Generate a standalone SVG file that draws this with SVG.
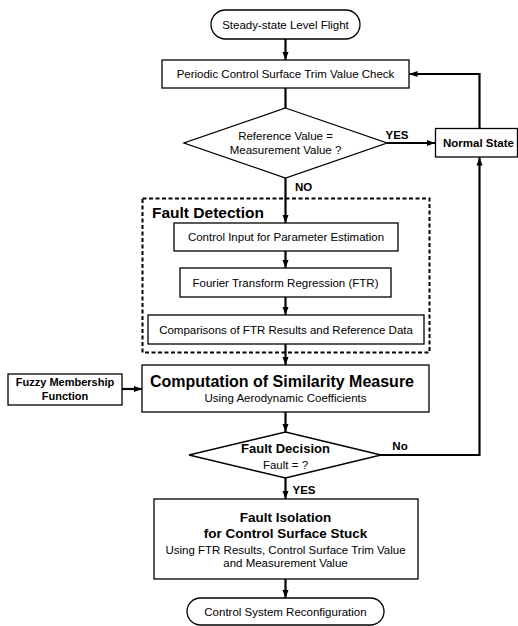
<svg xmlns="http://www.w3.org/2000/svg" width="518" height="626" viewBox="0 0 518 626">
<style>
.b{fill:#fff;stroke:#000;stroke-width:1.3}
.t{font-family:"Liberation Sans",Arial,sans-serif;font-size:11.5px;fill:#000;text-anchor:middle}
.bd{font-family:"Liberation Sans",Arial,sans-serif;font-weight:bold;fill:#000;text-anchor:middle}
.l{text-anchor:start}
.c{fill:none;stroke:#000;stroke-width:2.2}
</style>
<defs>
<marker id="a" markerUnits="userSpaceOnUse" markerWidth="8" markerHeight="8" viewBox="0 0 8 8" refX="8" refY="4" orient="auto">
<path d="M0,1 L8,4 L0,7 Z" fill="#000"/>
</marker>
</defs>
<rect width="518" height="626" fill="#fff"/>
<g id="connectors">
<path class="c" d="M285.5,39 V60" marker-end="url(#a)"/>
<path class="c" d="M285.5,88 V108"/>
<path class="c" d="M387,143 H435" marker-end="url(#a)"/>
<path class="c" d="M285.5,178 V223" marker-end="url(#a)"/>
<path class="c" d="M285.5,251 V268" marker-end="url(#a)"/>
<path class="c" d="M285.5,297 V315" marker-end="url(#a)"/>
<path class="c" d="M285.5,344 V365" marker-end="url(#a)"/>
<path class="c" d="M122,389 H142" marker-end="url(#a)"/>
<path class="c" d="M285.5,412 V432" marker-end="url(#a)"/>
<path class="c" d="M380,455 H479.5 V157.5" marker-end="url(#a)"/>
<path class="c" d="M479.5,128 V74 H409.5" marker-end="url(#a)"/>
<path class="c" d="M285.5,478 V499" marker-end="url(#a)"/>
<path class="c" d="M285.5,579 V598" marker-end="url(#a)"/>
<text class="bd" x="397" y="139" font-size="11.5">YES</text>
<text class="bd" x="303.5" y="191" font-size="11.5">NO</text>
<text class="bd" x="400" y="450" font-size="11.5">No</text>
<text class="bd" x="304" y="494" font-size="11.5">YES</text>
</g>
<g id="start">
<rect class="b" x="211" y="10" width="149" height="29" rx="14.5"/>
<text class="t" x="285.5" y="29">Steady-state Level Flight</text>
</g>
<g id="periodic">
<rect class="b" x="162" y="60" width="247" height="28"/>
<text class="t" x="285.5" y="78">Periodic Control Surface Trim Value Check</text>
</g>
<g id="ref-check">
<polygon class="b" points="285.5,108 387,143 285.5,178 184,143"/>
<text class="t" x="285.5" y="140">Reference Value =</text>
<text class="t" x="285.5" y="154">Measurement Value ?</text>
</g>
<g id="normal">
<rect class="b" x="435.5" y="128.5" width="82" height="28.5"/>
<text class="bd" x="478.5" y="147" font-size="11.5">Normal State</text>
</g>
<g id="fault-detection">
<rect x="142.5" y="198.5" width="287" height="154" fill="none" stroke="#000" stroke-width="2" stroke-dasharray="4,2.5"/>
<text class="bd l" x="152" y="218" font-size="15.5">Fault Detection</text>
</g>
<g id="control-input">
<rect class="b" x="174" y="223" width="224" height="28"/>
<text class="t" x="286" y="241">Control Input for Parameter Estimation</text>
</g>
<g id="ftr">
<rect class="b" x="180" y="268" width="211" height="29"/>
<text class="t" x="285.5" y="287">Fourier Transform Regression (FTR)</text>
</g>
<g id="comparisons">
<rect class="b" x="148" y="315" width="276" height="29"/>
<text class="t" x="286" y="334">Comparisons of FTR Results and Reference Data</text>
</g>
<g id="fuzzy">
<rect class="b" x="8" y="374" width="114" height="31"/>
<text class="bd" x="65" y="386" font-size="11">Fuzzy Membership</text>
<text class="bd" x="65" y="400" font-size="11">Function</text>
</g>
<g id="similarity">
<rect class="b" x="142" y="365" width="287" height="47"/>
<text class="bd" x="282" y="387" font-size="16">Computation of Similarity Measure</text>
<text class="t" x="285.5" y="402" font-size="11">Using Aerodynamic Coefficients</text>
</g>
<g id="fault-decision">
<polygon class="b" points="285.5,432 381,455 285.5,478 189,455"/>
<text class="bd" x="285.5" y="453" font-size="13">Fault Decision</text>
<text class="t" x="285.5" y="469" font-size="11">Fault = ?</text>
</g>
<g id="fault-isolation">
<rect class="b" x="154" y="499" width="264" height="80"/>
<text class="bd" x="285.5" y="522" font-size="13.5">Fault Isolation</text>
<text class="bd" x="285.5" y="538" font-size="13.5">for Control Surface Stuck</text>
<text class="t" x="285.5" y="554">Using FTR Results, Control Surface Trim Value</text>
<text class="t" x="285.5" y="567">and Measurement Value</text>
</g>
<g id="end">
<rect class="b" x="187" y="598" width="197" height="27" rx="13.5"/>
<text class="t" x="285.5" y="616">Control System Reconfiguration</text>
</g>
</svg>
